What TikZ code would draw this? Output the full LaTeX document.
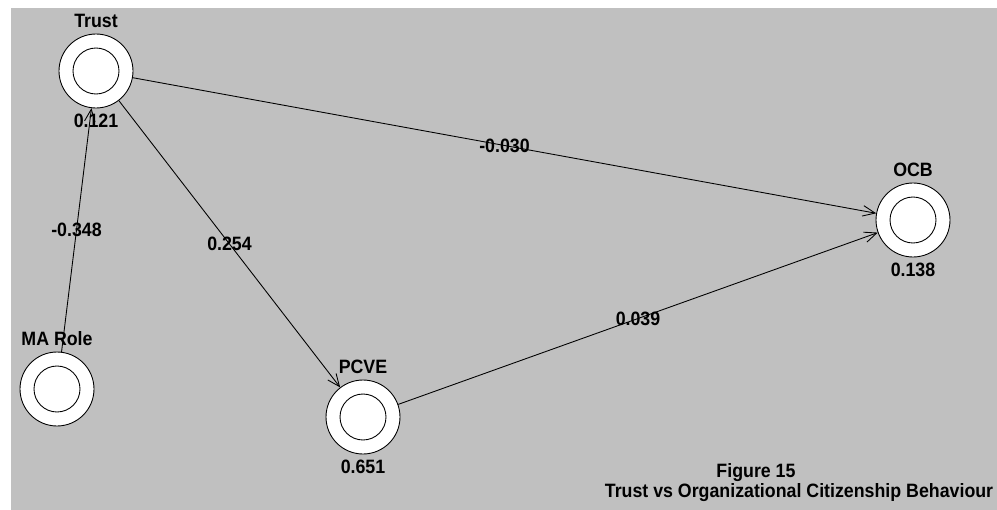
\documentclass[tikz,border=0pt]{standalone}
\usepackage{fontspec}
\setmainfont{Liberation Sans}
\newfontfamily\diagfont[FakeStretch=0.92]{Liberation Sans}
\usetikzlibrary{
  arrows.meta,
}
\definecolor{panel}{RGB}{192,192,192}

\begin{document}
\begin{tikzpicture}[x=0.02cm,y=-0.02cm]
\tikzset{
  construct/.style={
    circle, draw, fill=white, line width=0.5pt,
    minimum size=1.48cm, inner sep=0pt,
    path picture={\draw[line width=0.5pt] (path picture bounding box.center) circle (0.46cm);},
  },
  tag/.style={font=\diagfont\bfseries\fontsize{11}{13}\selectfont, inner sep=3pt},
  link/.style={line width=0.5pt, -{Straight Barb[length=7pt,width=6pt]}},
}

% canvas
\useasboundingbox (0,0) rectangle (997,510);
\fill[panel] (11,8) rectangle (997,510);

% constructs
\node[construct, label={[tag]above:Trust}, label={[tag]below:0.121}] (trust) at (96,71) {};
\node[construct, label={[tag]above:MA Role}] (marole) at (57,389) {};
\node[construct, label={[tag]above:PCVE}, label={[tag]below:0.651}] (pcve) at (363,417) {};
\node[construct, label={[tag]above:OCB}, label={[tag]below:0.138}] (ocb) at (913,220) {};

% path coefficients
\foreach \from/\to/\coef in {trust/ocb/-0.030, pcve/ocb/0.039, trust/pcve/0.254, marole/trust/-0.348} {
  \draw[link] (\from) -- node[tag] {\coef} (\to);
}

% caption
\node[tag, anchor=base] (fig) at (756,477) {Figure 15};
\node[tag, anchor=base] (title) at (799,497) {Trust vs Organizational Citizenship Behaviour};
\end{tikzpicture}
\end{document}
